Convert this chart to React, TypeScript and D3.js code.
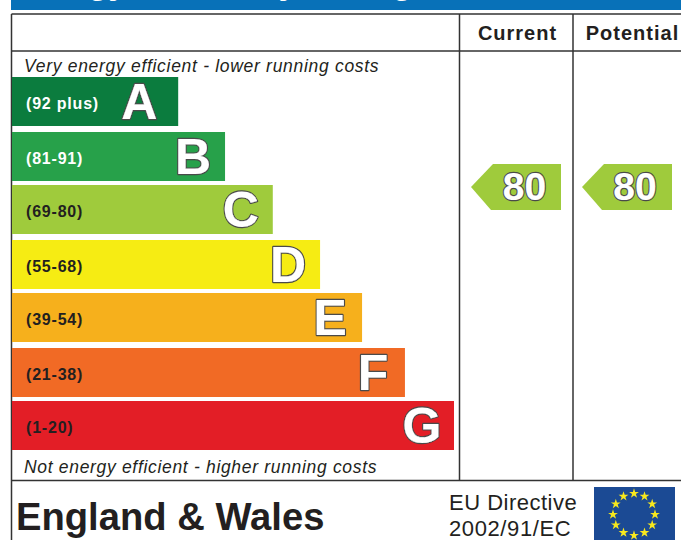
import React from 'react';
import * as d3 from 'd3';

const letters = ['A', 'B', 'C', 'D', 'E', 'F', 'G'];
const ranges = ['(92 plus)', '(81-91)', '(69-80)', '(55-68)', '(39-54)', '(21-38)', '(1-20)'];
const barLengths = [37.6, 48.2, 59, 69.7, 79.2, 88.9, 100];
const barColors = ['#0b7c3e', '#27a14a', '#9fcb3c', '#f6ec13', '#f6b01c', '#f16a25', '#e31e26'];
const columns = ['Current', 'Potential'];
const ratings = [80, 80];
const ratingBand = ['C', 'C'];

const FONT = '"Liberation Sans", Arial, sans-serif';
const INK = '#231f20';
const LINE = '#333333';

const x = d3.scaleLinear().domain([0, 100]).range([12, 454]);
const y = d3.scaleBand<string>().domain(letters).range([77, 450]).paddingInner(5 / 54);

const pointerPath = d3.line<[number, number]>();
const starPath = d3.symbol().type(d3.symbolStar).size(30);
const starAngles = d3.range(12).map(i => (i * Math.PI) / 6);

// white glyph with a dark rim, the way the letters and scores are drawn
const Outlined = ({ x, y, size, children }: any) => {
  const common = {
    x,
    y,
    textAnchor: 'middle' as const,
    fontFamily: FONT,
    fontWeight: 'bold',
    fontSize: size,
    strokeLinejoin: 'round' as const,
  };
  return (
    <g>
      <text {...common} fill="#4a4a4a" stroke="#4a4a4a" strokeWidth={2.4}>
        {children}
      </text>
      <text {...common} fill="#fff" stroke="#fff" strokeWidth={0.2}>
        {children}
      </text>
    </g>
  );
};

const App = () => {
  return (
    <svg
      width={681}
      height={540}
      viewBox="0 0 681 540"
      style={{ position: 'absolute', left: 0, top: 0, background: '#fff' }}
    >
      {/* blue title strip, cut off by the top of the picture */}
      <rect x={11} y={0} width={670} height={10} fill="#0871b8" />
      <text x={12} y={-6} fontFamily={FONT} fontWeight="bold" fontSize={34} fill="#fff">
        Energy Efficiency Rating
      </text>

      {/* table frame */}
      <g stroke={LINE} strokeWidth={1.5} fill="none">
        <path d="M11.5,14H681" />
        <path d="M11.5,51H681" />
        <path d="M11.5,480.5H681" />
        <path d="M11.5,14V540" />
        <path d="M459.5,14V480" />
        <path d="M573,14V480" />
      </g>

      {columns.map((c, i) => (
        <text
          key={c}
          x={i === 0 ? 517.5 : 632.5}
          y={40}
          textAnchor="middle"
          fontFamily={FONT}
          fontWeight="bold"
          fontSize={20}
          letterSpacing={1}
          fill={INK}
        >
          {c}
        </text>
      ))}

      <text x={24} y={72} fontFamily={FONT} fontStyle="italic" fontSize={17.5} letterSpacing={0.7} fill={INK}>
        Very energy efficient - lower running costs
      </text>
      <text x={24} y={473} fontFamily={FONT} fontStyle="italic" fontSize={17.5} letterSpacing={0.68} fill={INK}>
        Not energy efficient - higher running costs
      </text>

      {letters.map((l, i) => {
        // rows in the reference alternate between a 55 and 53 pixel pitch
        const top = (y(l) as number) + i % 2;
        const mid = top + y.bandwidth() / 2;
        return (
          <g key={l}>
            <rect x={x(0)} y={top} width={x(barLengths[i]) - x(0)} height={y.bandwidth()} fill={barColors[i]} />
            <text
              x={26}
              y={mid + 7.5}
              fontFamily={FONT}
              fontWeight="bold"
              fontSize={16}
              letterSpacing={0.8}
              fill={i < 2 ? '#fff' : INK}
            >
              {ranges[i]}
            </text>
            <Outlined x={x(barLengths[i]) - (i === 0 ? 39 : 32)} y={mid + 17} size={50}>
              {l}
            </Outlined>
          </g>
        );
      })}

      {columns.map((c, i) => {
        const left = i === 0 ? 471 : 582;
        const cy = (y(ratingBand[i]) as number) + 2;
        const points: [number, number][] = [
          [left, cy],
          [left + 22, cy - 23],
          [left + 90, cy - 23],
          [left + 90, cy + 23],
          [left + 20, cy + 23],
        ];
        return (
          <g key={c}>
            <path d={pointerPath(points) + 'Z'} fill={barColors[2]} />
            <Outlined x={left + (i === 0 ? 53.5 : 53)} y={cy + 13} size={39}>
              {ratings[i]}
            </Outlined>
          </g>
        );
      })}

      <text x={16} y={530} fontFamily={FONT} fontWeight="bold" fontSize={38.2} fill={INK}>
        England &amp; Wales
      </text>
      <text x={449} y={510} fontFamily={FONT} fontSize={22} letterSpacing={0.5} fill={INK}>
        EU Directive
      </text>
      <text x={449} y={536} fontFamily={FONT} fontSize={22} letterSpacing={0.6} fill={INK}>
        2002/91/EC
      </text>

      {/* EU flag */}
      <rect x={594} y={487} width={81} height={53} fill="#1b4a94" />
      {starAngles.map((a, i) => (
        <path
          key={i}
          d={starPath() as string}
          fill="#f7e81e"
          transform={`translate(${634 + 21 * Math.sin(a)},${514.5 - 21 * Math.cos(a)})`}
        />
      ))}
    </svg>
  );
};

export default App;
